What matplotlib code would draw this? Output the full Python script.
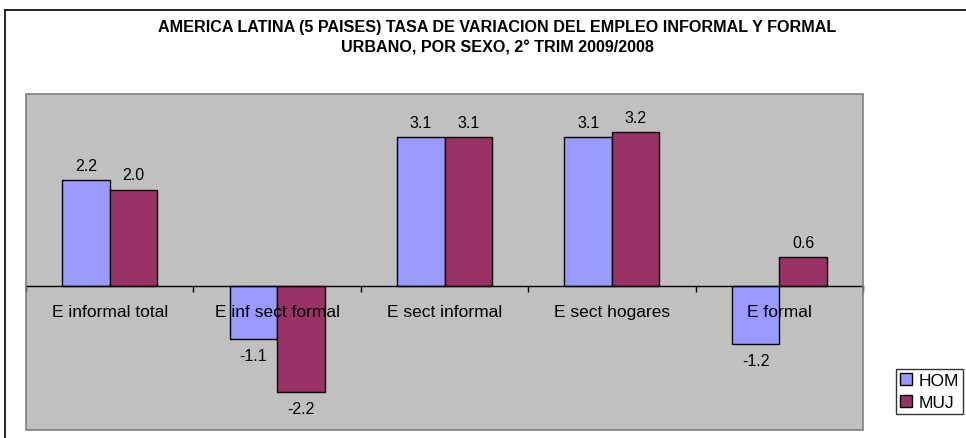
import matplotlib
matplotlib.use("Agg")
import matplotlib.pyplot as plt
from matplotlib.lines import Line2D
from matplotlib.patches import Rectangle, Patch
import numpy as np

plt.rcParams['font.family'] = ['Liberation Sans', 'DejaVu Sans']

categories = ["E informal total", "E inf sect formal", "E sect informal", "E sect hogares", "E formal"]
hom = [2.2, -1.1, 3.1, 3.1, -1.2]
muj = [2.0, -2.2, 3.1, 3.2, 0.6]
series_names = ["HOM", "MUJ"]
title = "AMERICA LATINA (5 PAISES) TASA DE VARIACION DEL EMPLEO INFORMAL Y FORMAL\nURBANO, POR SEXO, 2° TRIM 2009/2008"

W, H = 966, 439
fig = plt.figure(figsize=(W / 100, H / 100), dpi=100)
fig.patch.set_facecolor("white")

# outer chart frame (cut on right and bottom)
fig.add_artist(Line2D([5 / W, 5 / W], [0, 1 - 11 / H], color="black", lw=1.2, transform=fig.transFigure))
fig.add_artist(Line2D([5 / W, 1], [1 - 11 / H, 1 - 11 / H], color="black", lw=1.2, transform=fig.transFigure))

ax = fig.add_axes([26 / W, 1 - 431 / H, (863 - 26) / W, (431 - 95) / H])
ax.set_facecolor("#C0C0C0")

x = np.arange(len(categories))
w = 0.284
b1 = ax.bar(x - w / 2, hom, w, color="#9999FF", edgecolor="black", linewidth=1.0, label=series_names[0], zorder=1)
b2 = ax.bar(x + w / 2, muj, w, color="#993366", edgecolor="black", linewidth=1.0, label=series_names[1], zorder=1)

ax.set_xlim(-0.5, len(categories) - 0.5)
ax.set_ylim(-3, 4)

for bars, vals in ((b1, hom), (b2, muj)):
    for r, v in zip(bars, vals):
        off = 15 if v >= 0 else -17
        ax.annotate(f"{v:.1f}", (r.get_x() + r.get_width() / 2, v), xytext=(0, off),
                    textcoords="offset pixels",
                    ha="center", va="center", fontsize=11.5, zorder=5)

for s in ("top", "left", "right"):
    ax.spines[s].set_visible(False)
ax.spines["bottom"].set_position(("data", 0))
ax.spines["bottom"].set_color("black")
ax.spines["bottom"].set_linewidth(1.0)
ax.add_patch(Rectangle((0, 0), 1, 1, transform=ax.transAxes, fill=False, edgecolor="#808080", lw=1.2, clip_on=False, zorder=3))

ax.set_yticks([])
ax.set_xticks(np.arange(len(categories) + 1) - 0.5)
ax.set_xticklabels([])
ax.tick_params(axis="x", which="major", direction="out", length=4, width=1, color="black")
ax.set_xticks(x, minor=True)
ax.set_xticklabels(categories, minor=True, fontsize=12.5)
ax.tick_params(axis="x", which="minor", length=0, pad=13)

fig.text(497 / W, 1 - 38 / H, title, ha="center", va="center", fontsize=11.6, fontweight="bold", linespacing=1.45)

leg = fig.legend(handles=[Patch(facecolor="#9999FF", edgecolor="black"), Patch(facecolor="#993366", edgecolor="black")],
                 labels=series_names, loc="upper left", bbox_to_anchor=(896 / W, 1 - 370 / H),
                 bbox_transform=fig.transFigure, frameon=True, fancybox=False, fontsize=12.5,
                 handlelength=0.7, handleheight=0.7, handletextpad=0.35, borderpad=0.25, labelspacing=0.35,
                 borderaxespad=0)
leg.get_frame().set_edgecolor("black")
leg.get_frame().set_linewidth(1.0)

fig.savefig("out.png", dpi=100)
